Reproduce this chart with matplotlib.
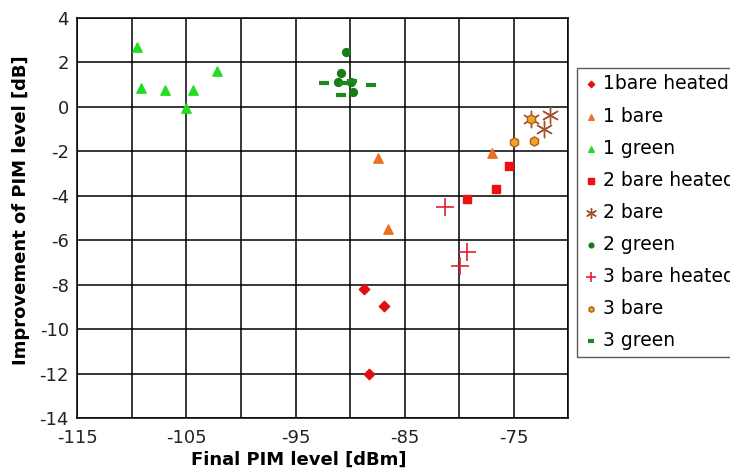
import matplotlib.pyplot as plt

# values
x_1bare_heated = [-88.7, -86.9, -88.3]
y_1bare_heated = [-8.2, -8.95, -12.0]

x_1bare = [-87.4, -86.5, -77.0]
y_1bare = [-2.3, -5.5, -2.1]

x_1green = [-109.5, -109.2, -107.0, -104.4, -105.0, -102.2]
y_1green = [2.7, 0.85, 0.77, 0.77, -0.05, 1.6]

x_2bare_heated = [-75.4, -76.6, -79.3]
y_2bare_heated = [-2.65, -3.7, -4.15]

x_2bare = [-73.4, -71.7, -72.2]
y_2bare = [-0.55, -0.35, -1.0]

x_2green = [-90.4, -90.8, -91.15, -89.75, -89.95]
y_2green = [2.45, 1.52, 1.1, 0.67, 1.1]

x_3bare_heated = [-81.3, -79.3, -79.9]
y_3bare_heated = [-4.5, -6.55, -7.15]

x_3bare = [-73.4, -75.0, -73.1]
y_3bare = [-0.55, -1.6, -1.55]

x_3green = [-92.4, -90.6, -89.8, -90.8, -88.1]
y_3green = [1.08, 1.05, 1.15, 0.55, 0.97]

x_ticks = [-115, -105, -95, -85, -75]
y_ticks = [4, 2, 0, -2, -4, -6, -8, -10, -12, -14]

plt.rcParams['font.family'] = ['DejaVu Sans']
plt.rcParams['axes.unicode_minus'] = False

fig = plt.figure(figsize=(7.3, 4.74), dpi=100)
ax = fig.add_axes([0.1059, 0.1181, 0.6726, 0.8443])

ax.scatter(x_1bare_heated, y_1bare_heated, marker='D', s=28, color='#e01010',
           label='1bare heated', zorder=3)
ax.scatter(x_1bare, y_1bare, marker='^', s=45, color='#ec7020',
           label='1 bare', zorder=3)
ax.scatter(x_1green, y_1green, marker='^', s=45, color='#22dd22',
           label='1 green', zorder=3)
ax.scatter(x_2bare_heated, y_2bare_heated, marker='s', s=38, color='#ee1010',
           label='2 bare heated', zorder=3)
ax.scatter(x_2bare, y_2bare, marker=(6, 2, 0), s=140, color='#a0522d',
           linewidths=1.0, label='2 bare', zorder=4)
ax.scatter(x_2green, y_2green, marker='o', s=32, color='#1a7a1a',
           label='2 green', zorder=3)
ax.scatter(x_3bare_heated, y_3bare_heated, marker='+', s=170, color='#e02030',
           linewidths=1.2, label='3 bare heated', zorder=3)
ax.scatter(x_3bare, y_3bare, marker='h', s=45, color='#f0a030',
           edgecolors='#b06010', linewidths=1.0, label='3 bare', zorder=4)
ax.scatter(x_3green, y_3green, marker='_', s=55, color='#1e8a1e',
           linewidths=3, label='3 green', zorder=3)

ax.set_xlim(-115, -70)
ax.set_ylim(-14, 4)
ax.set_xticks(x_ticks)
ax.set_yticks(y_ticks)
ax.set_xticks(range(-115, -69, 5), minor=True)
ax.grid(True, which='both', color='black', linewidth=1.1)
ax.set_axisbelow(True)
ax.tick_params(axis='both', which='both', length=0, labelsize=13, labelcolor='#222222')
ax.tick_params(axis='x', pad=8)
ax.tick_params(axis='y', pad=6)
for sp in ax.spines.values():
    sp.set_color('black')
    sp.set_linewidth(1.1)

ax.set_xlabel('Final PIM level [dBm]', fontsize=13, fontweight='bold')
ax.set_ylabel('Improvement of PIM level [dB]', fontsize=13, fontweight='bold')
ax.xaxis.set_label_coords(0.45, -0.083)
ax.yaxis.set_label_coords(-0.097, 0.52)

# legend sits past the right edge of the axes, clipped by the figure like the original
leg = ax.legend(loc='upper left', bbox_to_anchor=(1.0185, 0.875), fontsize=13.5,
                frameon=True, fancybox=False, edgecolor='#333333',
                borderaxespad=0, markerscale=0.6, handlelength=0.7,
                handletextpad=0.3, labelspacing=0.7, borderpad=0.35)
leg.get_frame().set_linewidth(1.0)

fig.savefig('out.png', dpi=100)
